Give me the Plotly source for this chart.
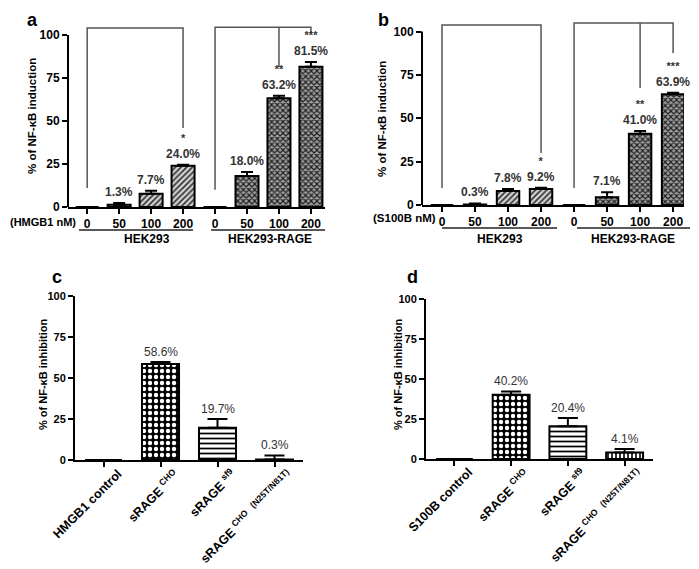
import plotly.graph_objects as go

W, H = 699, 569
OX, OY = 8, 8  # page body margin offset
FONT = "Liberation Sans, Arial, Helvetica, sans-serif"

# ---------------- data ----------------
dose_labels = ["0", "50", "100", "200", "0", "50", "100", "200"]
cell_groups = ["HEK293", "HEK293-RAGE"]

a_values = [0, 1.3, 7.7, 24.0, 0, 18.0, 63.2, 81.5]
a_errors = [0, 1.0, 1.8, 0.5, 0, 2.3, 1.5, 2.8]
a_labels = ["", "1.3%", "7.7%", "24.0%", "", "18.0%", "63.2%", "81.5%"]
a_stars = ["", "", "", "*", "", "", "**", "***"]

b_values = [0, 0.3, 8.0, 9.2, 0, 4.5, 41.0, 63.9]
b_errors = [0, 0.6, 1.2, 0.8, 0, 2.8, 1.6, 0.8]
b_labels = ["", "0.3%", "7.8%", "9.2%", "", "7.1%", "41.0%", "63.9%"]
b_stars = ["", "", "", "*", "", "", "**", "***"]

c_categories = ["HMGB1 control", "sRAGE <sup>CHO</sup>", "sRAGE <sup>sf9</sup>",
                "sRAGE <sup>CHO</sup>  <sup>(N25T/N81T)</sup>"]
c_values = [0, 58.6, 19.7, 0.3]
c_errors = [0, 1.2, 5.3, 2.5]
c_labels = ["", "58.6%", "19.7%", "0.3%"]

d_categories = ["S100B control", "sRAGE <sup>CHO</sup>", "sRAGE <sup>sf9</sup>",
                "sRAGE <sup>CHO</sup>  <sup>(N25T/N81T)</sup>"]
d_values = [0, 40.2, 20.4, 4.1]
d_errors = [0, 2.0, 5.2, 2.2]
d_labels = ["", "40.2%", "20.4%", "4.1%"]

y_ticks = [0, 25, 50, 75, 100]


def px(x, y):
    return (x - OX) / W, 1 - (y - OY) / H


def xdom(x0, x1):
    return [(x0 - OX) / W, (x1 - OX) / W]


def ydom(ytop, ybot):
    return [1 - (ybot - OY) / H, 1 - (ytop - OY) / H]


fig = go.Figure()

# pattern styles: (shape, fgcolor, bgcolor, size, solidity)
HATCH = ("/", "#333333", "#d4d4d4", 4, 0.42)
DARK = ("x", "#1e1e1e", "#a0a0a0", 4, 0.5)
NONE = ("", "black", "white", 6, 0.4)
CHECK = (".", "white", "black", 6, 0.42)
HLINE = ("-", "black", "white", 5, 0.35)
VLINE = ("|", "black", "white", 4, 0.4)

ab_styles = [HATCH] * 4 + [DARK] * 4
cd_styles = [NONE, CHECK, HLINE, VLINE]


def add_bars(vals, errs, xa, ya, styles, width, capw):
    for i, (v, e, st) in enumerate(zip(vals, errs, styles)):
        shape, fg, bg, size, sol = st
        pat = dict(shape=shape, fgcolor=fg, bgcolor=bg, size=size, solidity=sol,
                   fillmode="replace")
        fig.add_trace(go.Bar(
            x=[i], y=[v], width=width, xaxis=xa, yaxis=ya,
            marker=dict(color=bg, line=dict(color="black", width=2), pattern=pat),
            error_y=dict(type="data", symmetric=False, array=[e], arrayminus=[0],
                         color="black", thickness=2, width=capw),
            hoverinfo="skip",
        ))


add_bars(a_values, a_errors, "x", "y", ab_styles, 0.72, 6)
add_bars(b_values, b_errors, "x2", "y2", ab_styles, 0.68, 6)
add_bars(c_values, c_errors, "x3", "y3", cd_styles, 0.65, 10)
add_bars(d_values, d_errors, "x4", "y4", cd_styles, 0.65, 10)

annotations = []
shapes = []


def value_labels(vals, errs, labels, stars, xr, yr, bold, shift):
    for i, (v, e, lab) in enumerate(zip(vals, errs, labels)):
        if not lab:
            continue
        txt = lab
        if stars and stars[i]:
            txt = "<span style='font-size:11px'>" + stars[i] + "</span><br>" + lab
        annotations.append(dict(
            x=i, y=v + e, xref=xr, yref=yr, text=txt, showarrow=False,
            yanchor="bottom", yshift=shift,
            font=dict(family=FONT, size=12, color="#333333",
                      weight="bold" if bold else "normal"),
        ))


value_labels(a_values, a_errors, a_labels, a_stars, "x", "y", True, 2)
value_labels(b_values, b_errors, b_labels, b_stars, "x2", "y2", True, 2)
value_labels(c_values, c_errors, c_labels, None, "x3", "y3", False, 1)
value_labels(d_values, d_errors, d_labels, None, "x4", "y4", False, 1)


# rotated category labels for panels c and d
def rotated_labels(cats, xr, yr):
    for i, lab in enumerate(cats):
        annotations.append(dict(
            x=i, y=0, xref=xr, yref=yr, text=lab, showarrow=False, textangle=-45,
            xanchor="right", yanchor="top", xshift=24, yshift=-4,
            font=dict(family=FONT, size=12.5, color="black", weight="bold"),
        ))


rotated_labels(c_categories, "x3", "y3")
rotated_labels(d_categories, "x4", "y4")

# significance brackets (data coordinates)
br_style = dict(color="#555555", width=1.5)
for xr, yr, paths in [
    ("x", "y", ["M 0,11 V 104 H 3 V 46", "M 4,10 V 104.5 H 7 V 101", "M 6,104.5 V 81.4"]),
    ("x2", "y2", ["M 0,9.8 V 103.7 H 3 V 30", "M 4,9.8 V 104.9 H 7 V 87.6", "M 6,104.9 V 67.4"]),
]:
    for p in paths:
        shapes.append(dict(type="path", path=p, xref=xr, yref=yr, line=br_style))

# partial y-axis lines for panels a and b (stop at 100)
for xr, yr in [("x domain", "y"), ("x2 domain", "y2")]:
    shapes.append(dict(type="line", xref=xr, yref=yr, x0=0, x1=0, y0=0, y1=100,
                       line=dict(color="black", width=2)))

# group underlines
for (x0, x1, yy) in [(79, 193, 230), (211, 325, 230), (442, 557, 228), (577, 690, 228)]:
    p0 = px(x0, yy)
    p1 = px(x1, yy)
    shapes.append(dict(type="line", xref="paper", yref="paper", x0=p0[0], x1=p1[0],
                       y0=p0[1], y1=p1[1], line=dict(color="#222222", width=1.5)))


def paper_text(x, y, text, size=12, bold=True, angle=0, xanchor="center", yanchor="middle"):
    px_, py_ = px(x, y)
    annotations.append(dict(x=px_, y=py_, xref="paper", yref="paper", text=text,
                            showarrow=False, textangle=angle, xanchor=xanchor,
                            yanchor=yanchor,
                            font=dict(family=FONT, size=size, color="black",
                                      weight="bold" if bold else "normal")))


# group names
paper_text(147, 239, cell_groups[0])
paper_text(270, 239, cell_groups[1])
paper_text(500, 239, cell_groups[0])
paper_text(633, 239, cell_groups[1])
# dose captions
paper_text(78, 222, "(HMGB1 nM)", size=11, xanchor="right")
paper_text(438, 218, "(S100B nM)", size=11.5, xanchor="right")
# y titles
paper_text(32, 116, "% of NF-κB induction", size=11.5, angle=-90)
paper_text(382, 119, "% of NF-κB induction", size=11.5, angle=-90)
paper_text(43, 374, "% of NF-κB inhibition", size=11, angle=-90)
paper_text(398, 374, "% of NF-κB inhibition", size=11, angle=-90)
# panel letters
paper_text(32, 8, "a", size=18, yanchor="top")
paper_text(383, 8, "b", size=18, yanchor="top")
paper_text(57, 277, "c", size=18)
paper_text(412, 277, "d", size=18)

tickfont = dict(family=FONT, size=12, color="black", weight="bold")
tickfont_s = dict(family=FONT, size=11, color="black", weight="bold")


def xaxis(dom, rng, anchor, n, ticktext=None):
    return dict(domain=dom, range=rng, anchor=anchor, showgrid=False, zeroline=False,
                showline=True, linecolor="black", linewidth=2, ticks="outside",
                ticklen=5, tickwidth=2, tickcolor="black",
                tickvals=list(range(n)), ticktext=ticktext,
                showticklabels=ticktext is not None,
                tickfont=tickfont, fixedrange=True, automargin=False)


def yaxis(dom, rng, anchor, showline, tf):
    return dict(domain=dom, range=rng, anchor=anchor, showgrid=False, zeroline=False,
                showline=showline, linecolor="black", linewidth=2, ticks="outside",
                ticklen=5, tickwidth=2, tickcolor="black", tickvals=y_ticks,
                tickfont=tf, fixedrange=True, automargin=False)


fig.update_layout(
    width=W, height=H, margin=dict(l=0, r=0, t=0, b=0, autoexpand=False),
    paper_bgcolor="white", plot_bgcolor="white", showlegend=False,
    font=dict(family=FONT),
    xaxis=xaxis(xdom(68, 325), [-0.6, 7.44], "y", len(dose_labels), dose_labels),
    yaxis=yaxis(ydom(20, 207), [0, 187 / 1.72], "x", False, tickfont),
    xaxis2=xaxis(xdom(422, 684), [-0.606, 7.33], "y2", len(dose_labels), dose_labels),
    yaxis2=yaxis(ydom(15, 205), [0, 190 / 1.735], "x2", False, tickfont),
    xaxis3=xaxis(xdom(75, 303), [-0.5, 3.5], "y3", len(c_categories)),
    yaxis3=yaxis(ydom(296, 460), [0, 100], "x3", True, tickfont_s),
    xaxis4=xaxis(xdom(426, 653), [-0.5, 3.5], "y4", len(d_categories)),
    yaxis4=yaxis(ydom(299, 459), [0, 100], "x4", True, tickfont_s),
    annotations=annotations, shapes=shapes, barmode="overlay",
)

fig.write_html("out.html")
